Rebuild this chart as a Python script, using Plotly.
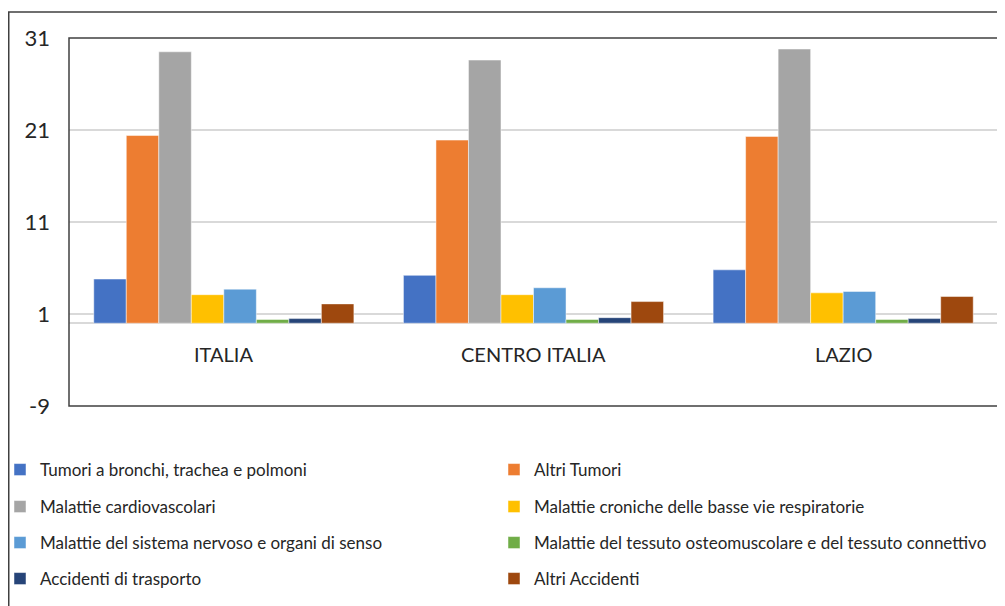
import plotly.graph_objects as go

regions = ["ITALIA", "CENTRO ITALIA", "LAZIO"]
series_names = [
    "Tumori a bronchi, trachea e polmoni",
    "Altri Tumori",
    "Malattie cardiovascolari",
    "Malattie croniche delle basse vie respiratorie",
    "Malattie del sistema nervoso e organi di senso",
    "Malattie del tessuto osteomuscolare e del tessuto connettivo",
    "Accidenti di trasporto",
    "Altri Accidenti",
]
tumori_bronchi = [4.8, 5.2, 5.8]
altri_tumori = [20.4, 19.9, 20.3]
cardiovascolari = [29.5, 28.6, 29.8]
croniche_respiratorie = [3.1, 3.1, 3.3]
sistema_nervoso = [3.7, 3.85, 3.45]
osteomuscolare = [0.4, 0.4, 0.4]
accidenti_trasporto = [0.5, 0.6, 0.5]
altri_accidenti = [2.1, 2.35, 2.9]

series_values = [tumori_bronchi, altri_tumori, cardiovascolari, croniche_respiratorie,
                 sistema_nervoso, osteomuscolare, accidenti_trasporto, altri_accidenti]
colors = ["#4472C4", "#ED7D31", "#A5A5A5", "#FFC000", "#5B9BD5", "#70AD47", "#264478", "#9E480E"]

y_ticks = [-9, 1, 11, 21, 31]

FONT = "Lato"
fig = go.Figure()
legend_ids = ["legend"] + [f"legend{k}" for k in range(2, 9)]
for i, (name, vals, col) in enumerate(zip(series_names, series_values, colors)):
    fig.add_trace(go.Bar(
        name=name, x=regions, y=vals,
        marker=dict(color=col, line=dict(color="rgba(255,255,255,0.6)", width=0.8)),
        legend=legend_ids[i],
    ))

# page body has an 8px margin: work in figure coordinates
W, H = 997, 598
ml, mr, mt, mb = 61, 7, 30, 200
pw, ph = W - ml - mr, H - mt - mb

def px_x(x):
    return (x - ml) / pw

def px_y(y):
    return (H - mb - y) / ph

legend_common = dict(
    orientation="h", xanchor="left", yanchor="middle", indentation=-9,
    font=dict(family=FONT, size=17, color="#262626"),
    bgcolor="rgba(0,0,0,0)",
)
row_y = [462, 499, 535, 571]
col_x = [1, 495]
layout_legends = {}
for i, lid in enumerate(legend_ids):
    layout_legends[lid] = dict(legend_common, x=px_x(col_x[i % 2]), y=px_y(row_y[i // 2]))

fig.update_layout(
    width=W, height=H,
    margin=dict(l=ml, r=mr, t=mt, b=mb, autoexpand=False),
    paper_bgcolor="white", plot_bgcolor="white",
    barmode="group", bargap=0.16, bargroupgap=0,
    showlegend=True,
    font=dict(family=FONT, color="#262626"),
    xaxis=dict(showticklabels=False, showgrid=False, zeroline=False, showline=False,
               ticks="", range=[-0.5, 2.5]),
    yaxis=dict(range=[-9, 31], tickvals=y_ticks, ticktext=[str(v) for v in y_ticks],
               showgrid=True, gridcolor="#D9D9D9", gridwidth=1.5,
               zeroline=True, zerolinecolor="#D9D9D9", zerolinewidth=2,
               showline=False, ticks="", ticklabelstandoff=18,
               tickfont=dict(family=FONT, size=22, color="#262626")),
    **layout_legends,
)

for r in regions:
    fig.add_annotation(x=r, y=0, xref="x", yref="y", text=r, showarrow=False,
                       yanchor="middle", yshift=-31,
                       font=dict(family=FONT, size=20, color="#262626"))

# plot-area border
fig.add_shape(type="rect", xref="paper", yref="paper", x0=0, x1=1, y0=0, y1=1,
              line=dict(color="#404040", width=1.5), layer="above")
# outer chart border
fig.add_shape(type="rect", xref="paper", yref="paper",
              x0=px_x(0.75), x1=px_x(1010), y0=px_y(620), y1=px_y(4),
              line=dict(color="#404040", width=1.5), layer="above")

fig.write_html("out.html")
